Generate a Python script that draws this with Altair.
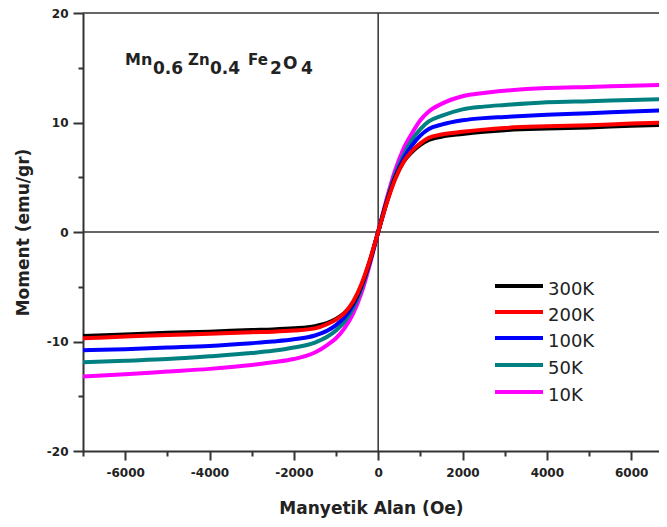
import altair as alt
import pandas as pd

# Field values (Oe)
H = [-7000, -6000, -5000, -4000, -3000, -2500, -2000, -1500, -1200, -1000, -800, -600, -400, -200,
     0, 200, 400, 600, 800, 1000, 1200, 1500, 2000, 2500, 3000, 4000, 5000, 6000, 7000]

# Moment (emu/gr)
M_300K = [-9.5, -9.35, -9.2, -9.1, -8.95, -8.9, -8.8, -8.6, -8.3, -7.95, -7.4, -6.5, -4.9, -2.7,
          0, 2.7, 4.9, 6.4, 7.3, 7.95, 8.4, 8.7, 8.95, 9.15, 9.3, 9.45, 9.55, 9.7, 9.8]
M_200K = [-9.7, -9.55, -9.4, -9.3, -9.15, -9.1, -9.0, -8.8, -8.4, -8.0, -7.4, -6.4, -4.8, -2.6,
          0, 2.6, 4.8, 6.4, 7.4, 8.1, 8.6, 8.9, 9.15, 9.35, 9.5, 9.65, 9.75, 9.9, 10.0]
M_100K = [-10.8, -10.7, -10.55, -10.4, -10.15, -10.0, -9.8, -9.45, -9.0, -8.5, -7.8, -6.7, -5.0, -2.7,
          0, 2.7, 5.0, 6.7, 7.9, 8.8, 9.4, 9.8, 10.2, 10.4, 10.5, 10.7, 10.85, 11.0, 11.15]
M_50K = [-11.9, -11.75, -11.6, -11.35, -11.05, -10.85, -10.55, -10.1, -9.55, -9.0, -8.2, -7.0, -5.2, -2.8,
         0, 2.8, 5.2, 7.0, 8.4, 9.4, 10.1, 10.6, 11.2, 11.45, 11.6, 11.85, 11.95, 12.05, 12.15]
M_10K = [-13.2, -13.0, -12.75, -12.5, -12.15, -11.9, -11.6, -11.0, -10.3, -9.7, -8.8, -7.5, -5.6, -3.0,
         0, 3.0, 5.6, 7.6, 9.0, 10.2, 11.0, 11.7, 12.4, 12.7, 12.9, 13.15, 13.25, 13.35, 13.45]

series = ["300K", "200K", "100K", "50K", "10K"]
colors = ["#000000", "#ff0000", "#0000ff", "#008080", "#ff00ff"]
values = [M_300K, M_200K, M_100K, M_50K, M_10K]

x_ticks = list(range(-7000, 6001, 1000))
y_ticks = list(range(-20, 21, 5))

rows = []
for name, vals in zip(series, values):
    for h, m in zip(H, vals):
        rows.append({"H": h, "M": m, "T": name})
df = pd.DataFrame(rows)

FONT = "DejaVu Sans"
TXT = "#222222"
AX = "#333333"

xscale = alt.Scale(domain=[-7000, 6660], nice=False, zero=False)
yscale = alt.Scale(domain=[-20, 20], nice=False, zero=False)
cscale = alt.Scale(domain=series, range=colors)

xaxis = alt.Axis(
    values=x_ticks, title="Manyetik Alan (Oe)", grid=False,
    labelExpr="datum.value % 2000 == 0 ? '' + datum.value : ''",
    tickSize={"condition": {"test": "datum.value % 2000 == 0", "value": 9}, "value": 5},
    labelFlush=False, labelOverlap=False, labelPadding=7, titlePadding=22,
)
yaxis = alt.Axis(
    values=y_ticks, title="Moment (emu/gr)", grid=False,
    labelExpr="datum.value % 10 == 0 ? '' + datum.value : ''",
    tickSize={"condition": {"test": "datum.value % 10 == 0", "value": 10}, "value": 5},
    labelFlush=False, labelOverlap=False, labelPadding=5, titlePadding=14,
)

base = alt.Chart(df)

layers = []
# zero lines and top border
layers.append(alt.Chart(pd.DataFrame({"H": [0]})).mark_rule(color=AX, strokeWidth=1.5).encode(
    x=alt.X("H:Q", scale=xscale, axis=xaxis)))
layers.append(alt.Chart(pd.DataFrame({"M": [0, 20]})).mark_rule(color=AX, strokeWidth=1.5).encode(
    y=alt.Y("M:Q", scale=yscale, axis=yaxis)))

draw_order = ["10K", "50K", "100K", "300K", "200K"]
for name in draw_order:
    layers.append(
        base.transform_filter(alt.datum.T == name)
        .mark_line(strokeWidth=4, interpolate="monotone", clip=True)
        .encode(
            x=alt.X("H:Q", scale=xscale, axis=xaxis),
            y=alt.Y("M:Q", scale=yscale, axis=yaxis),
            color=alt.Color("T:N", scale=cscale, legend=None),
        )
    )

# manual legend
leg_y = [273, 299, 325, 352, 379]
for name, col, yy in zip(series, colors, leg_y):
    layers.append(alt.Chart(pd.DataFrame({"T": [name]})).mark_rule(strokeWidth=4, color=col).encode(
        x=alt.value(412), x2=alt.value(460), y=alt.value(yy)))
    layers.append(alt.Chart(pd.DataFrame({"T": [name]})).mark_text(
        align="left", baseline="alphabetic", font=FONT, fontSize=18, color=TXT).encode(
        text="T:N", x=alt.value(465), y=alt.value(yy + 9)))

# formula annotation
pieces = [("Mn", 42, 52, 16), ("0.6", 70, 61, 17), ("Zn", 105, 52, 15), ("0.4", 127, 61, 17),
          ("Fe", 165, 52, 15), ("2", 187, 61, 17), ("O", 200, 56, 17), ("4", 218, 61, 17)]
for t, px, py, fs in pieces:
    layers.append(alt.Chart(pd.DataFrame({"t": [t]})).mark_text(
        align="left", baseline="alphabetic", font=FONT, fontWeight="bold",
        fontSize=fs, color=TXT).encode(text="t:N", x=alt.value(px), y=alt.value(py)))

chart = alt.layer(*layers).properties(
    width=576, height=438,
    background="white",
    autosize=alt.AutoSizeParams(type="none"),
    padding={"left": 75, "top": 5, "right": 0, "bottom": 67},
).configure_view(stroke=None).configure_axis(
    domainColor=AX, domainWidth=2, tickColor=AX, tickWidth=2,
    labelFont=FONT, labelFontWeight="bold", labelFontSize=12, labelColor=TXT,
    titleFont=FONT, titleFontWeight="bold", titleFontSize=17, titleColor=TXT,
)

chart.save("out.html", embed_options={"renderer": "svg", "actions": False})
